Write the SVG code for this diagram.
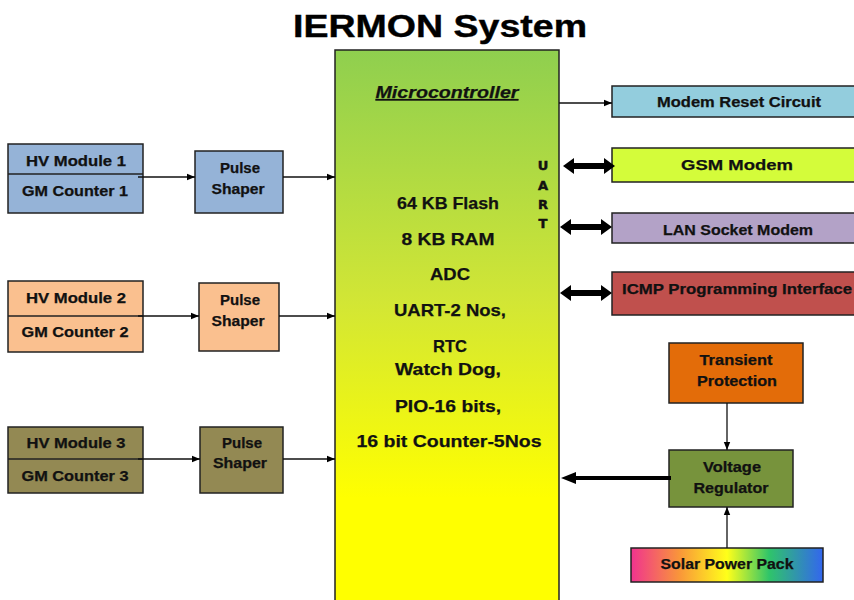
<svg xmlns="http://www.w3.org/2000/svg" xmlns:xlink="http://www.w3.org/1999/xlink" width="854" height="600" viewBox="0 0 854 600">
<defs>
<linearGradient id="gMcu" x1="0" y1="0" x2="0" y2="1">
<stop offset="0" stop-color="#8fcf4f"/>
<stop offset="0.45" stop-color="#d2e635"/>
<stop offset="0.8" stop-color="#ffff00"/>
<stop offset="1" stop-color="#ffff00"/>
</linearGradient>
<linearGradient id="gSolar" x1="0" y1="0" x2="1" y2="0">
<stop offset="0" stop-color="#f0338f"/>
<stop offset="0.25" stop-color="#f9953a"/>
<stop offset="0.5" stop-color="#ffff1a"/>
<stop offset="0.72" stop-color="#2fc46a"/>
<stop offset="1" stop-color="#3366ee"/>
</linearGradient>
<marker id="ah" viewBox="0 0 10 10" refX="10" refY="5" markerWidth="8" markerHeight="8" markerUnits="userSpaceOnUse" orient="auto">
<path d="M0,1 L10,5 L0,9 z" fill="#000"/>
</marker>
<path id="dbl" d="M0,0 L11,-8 L11,-3 L41,-3 L41,-8 L52,0 L41,8 L41,3 L11,3 L11,8 z"/>
</defs>
<style>
text{font-family:"Liberation Sans",Arial,sans-serif;font-weight:bold;fill:#111;text-anchor:middle;stroke:#111;stroke-width:0.25}
.box{stroke:#222;stroke-width:1.5}
.ln{stroke:#111;stroke-width:1.3;fill:none}
.s14{font-size:14px}
.s17{font-size:17px}
.uart{font-size:13px;font-family:"DejaVu Sans","Liberation Sans",sans-serif;stroke-width:0.5}
.dbl{fill:#000}
</style>
<rect width="854" height="600" fill="#fff"/>
<text x="440" y="37" font-size="31" textLength="294" lengthAdjust="spacingAndGlyphs" style="fill:#000;stroke:#000;stroke-width:0.4">IERMON System</text>

<g id="mcu">
<rect class="box" x="335" y="50" width="224" height="560" fill="url(#gMcu)"/>
<text x="447" y="98" font-size="16" font-style="italic" text-decoration="underline" textLength="143" lengthAdjust="spacingAndGlyphs">Microcontroller</text>
<text class="s17" x="448" y="209" textLength="102" lengthAdjust="spacingAndGlyphs">64 KB Flash</text>
<text class="s17" x="448" y="245" textLength="93" lengthAdjust="spacingAndGlyphs">8 KB RAM</text>
<text class="s17" x="450" y="280" textLength="40" lengthAdjust="spacingAndGlyphs">ADC</text>
<text class="s17" x="450" y="316" textLength="112" lengthAdjust="spacingAndGlyphs">UART-2 Nos,</text>
<text class="s17" x="450" y="352" textLength="34" lengthAdjust="spacingAndGlyphs">RTC</text>
<text class="s17" x="448" y="375" textLength="106" lengthAdjust="spacingAndGlyphs">Watch Dog,</text>
<text class="s17" x="448" y="412" textLength="106" lengthAdjust="spacingAndGlyphs">PIO-16 bits,</text>
<text class="s17" x="449" y="447" textLength="185" lengthAdjust="spacingAndGlyphs">16 bit Counter-5Nos</text>
<text class="uart" x="543" y="170">U</text>
<text class="uart" x="543" y="190">A</text>
<text class="uart" x="543" y="209">R</text>
<text class="uart" x="543" y="228">T</text>
</g>

<g id="hv1">
<rect class="box" x="8" y="144" width="135" height="69" fill="#95b3d7"/>
<line x1="8" y1="174" x2="143" y2="174" stroke="#222" stroke-width="1.3"/>
<text class="s14" x="76" y="166" textLength="100" lengthAdjust="spacingAndGlyphs">HV Module 1</text>
<text class="s14" x="75" y="196" textLength="106" lengthAdjust="spacingAndGlyphs">GM Counter 1</text>
</g>
<g id="ps1">
<rect class="box" x="195" y="151" width="88" height="62" fill="#95b3d7"/>
<text class="s14" x="240" y="173" textLength="40" lengthAdjust="spacingAndGlyphs">Pulse</text>
<text class="s14" x="238" y="194" textLength="53" lengthAdjust="spacingAndGlyphs">Shaper</text>
</g>

<g id="hv2">
<rect class="box" x="8" y="281" width="135" height="71" fill="#fac08f"/>
<line x1="8" y1="316" x2="143" y2="316" stroke="#222" stroke-width="1.3"/>
<text class="s14" x="76" y="303" textLength="100" lengthAdjust="spacingAndGlyphs">HV Module 2</text>
<text class="s14" x="75" y="337" textLength="107" lengthAdjust="spacingAndGlyphs">GM Counter 2</text>
</g>
<g id="ps2">
<rect class="box" x="199" y="283" width="80" height="68" fill="#fac08f"/>
<text class="s14" x="240" y="305" textLength="40" lengthAdjust="spacingAndGlyphs">Pulse</text>
<text class="s14" x="238" y="326" textLength="53" lengthAdjust="spacingAndGlyphs">Shaper</text>
</g>

<g id="hv3">
<rect class="box" x="8" y="427" width="135" height="66" fill="#938953"/>
<line x1="8" y1="459" x2="143" y2="459" stroke="#222" stroke-width="1.3"/>
<text class="s14" x="76" y="448" textLength="99" lengthAdjust="spacingAndGlyphs">HV Module 3</text>
<text class="s14" x="75" y="481" textLength="107" lengthAdjust="spacingAndGlyphs">GM Counter 3</text>
</g>
<g id="ps3">
<rect class="box" x="200" y="427" width="83" height="66" fill="#938953"/>
<text class="s14" x="242" y="448" textLength="40" lengthAdjust="spacingAndGlyphs">Pulse</text>
<text class="s14" x="240" y="468" textLength="54" lengthAdjust="spacingAndGlyphs">Shaper</text>
</g>

<g id="reset">
<rect class="box" x="612" y="86" width="250" height="31" fill="#93cddd"/>
<text class="s14" x="739" y="107" textLength="164" lengthAdjust="spacingAndGlyphs">Modem Reset Circuit</text>
</g>
<g id="gsm">
<rect class="box" x="612" y="148" width="250" height="34" fill="#d4fc3a"/>
<text x="737" y="170" font-size="15" textLength="112" lengthAdjust="spacingAndGlyphs">GSM Modem</text>
</g>
<g id="lan">
<rect class="box" x="612" y="213" width="250" height="30" fill="#b3a2c7"/>
<text class="s14" x="738" y="235" textLength="150" lengthAdjust="spacingAndGlyphs">LAN Socket Modem</text>
</g>
<g id="icmp">
<rect class="box" x="612" y="272" width="250" height="43" fill="#c0504d"/>
<text class="s14" x="737" y="294" textLength="230" lengthAdjust="spacingAndGlyphs">ICMP Programming Interface</text>
</g>
<g id="transient">
<rect class="box" x="669" y="343" width="134" height="60" fill="#e36c09"/>
<text class="s14" x="736" y="365" textLength="73" lengthAdjust="spacingAndGlyphs">Transient</text>
<text class="s14" x="737" y="386" textLength="80" lengthAdjust="spacingAndGlyphs">Protection</text>
</g>
<g id="regulator">
<rect class="box" x="669" y="450" width="124" height="57" fill="#77933c"/>
<text class="s14" x="732" y="472" textLength="58" lengthAdjust="spacingAndGlyphs">Voltage</text>
<text class="s14" x="731" y="493" textLength="75" lengthAdjust="spacingAndGlyphs">Regulator</text>
</g>
<g id="solar">
<rect class="box" x="631" y="548" width="192" height="34" fill="url(#gSolar)"/>
<text class="s14" x="727" y="569" textLength="133" lengthAdjust="spacingAndGlyphs">Solar Power Pack</text>
</g>

<g id="connectors">
<line class="ln" x1="138" y1="177" x2="195" y2="177" marker-end="url(#ah)"/>
<line class="ln" x1="283" y1="177" x2="335" y2="177" marker-end="url(#ah)"/>
<line class="ln" x1="138" y1="316" x2="199" y2="316" marker-end="url(#ah)"/>
<line class="ln" x1="279" y1="316" x2="335" y2="316" marker-end="url(#ah)"/>
<line class="ln" x1="138" y1="459" x2="200" y2="459" marker-end="url(#ah)"/>
<line class="ln" x1="283" y1="459" x2="335" y2="459" marker-end="url(#ah)"/>
<line class="ln" x1="559" y1="103" x2="612" y2="103" marker-end="url(#ah)"/>
<use xlink:href="#dbl" href="#dbl" class="dbl" x="563" y="166"/>
<use xlink:href="#dbl" href="#dbl" class="dbl" x="560" y="227"/>
<use xlink:href="#dbl" href="#dbl" class="dbl" x="560" y="293"/>
<line class="ln" x1="727" y1="403" x2="727" y2="450" marker-end="url(#ah)"/>
<line class="ln" x1="727" y1="548" x2="727" y2="507" marker-end="url(#ah)"/>
<line x1="671" y1="478" x2="572" y2="478" stroke="#000" stroke-width="4"/>
<path d="M561,478 L576,472 L576,484 z" fill="#000"/>
</g>
</svg>
